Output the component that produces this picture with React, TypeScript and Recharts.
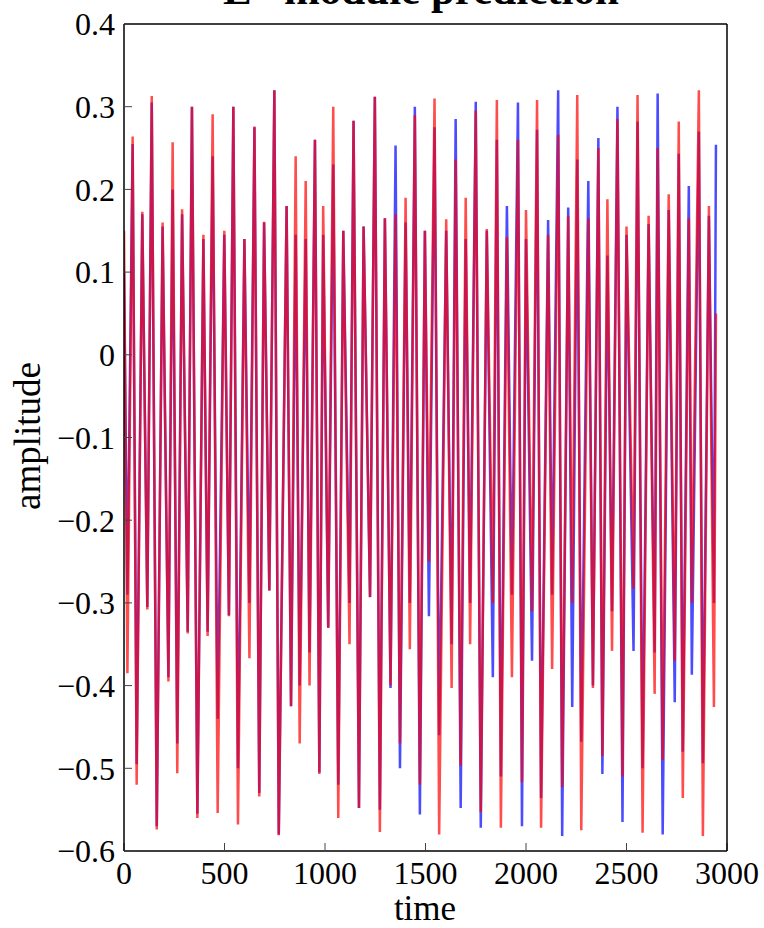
import React from 'react';
import { LineChart, Line, XAxis, YAxis } from 'recharts';

const title = 'E* module prediction';
const xLabel = 'time';
const yLabel = 'amplitude';

const times = [
  0, 17, 43, 63, 91, 116, 138, 163, 192, 221, 242, 265, 289, 317, 338, 365, 395, 416, 441, 466,
  499, 522, 544, 567, 599, 624, 649, 673, 697, 723, 748, 770, 809, 831, 854, 874, 904, 923, 950, 972,
  991, 1016, 1041, 1066, 1091, 1122, 1142, 1169, 1192, 1224, 1248, 1273, 1298, 1326, 1351, 1373, 1401, 1422, 1447, 1472,
  1497, 1517, 1545, 1568, 1603, 1630, 1650, 1675, 1700, 1722, 1750, 1775, 1805, 1835, 1855, 1875, 1905, 1930, 1960, 1980,
  2000, 2030, 2055, 2075, 2110, 2130, 2160, 2180, 2210, 2230, 2255, 2275, 2310, 2333, 2360, 2380, 2405, 2428, 2455, 2480,
  2500, 2535, 2555, 2580, 2610, 2640, 2655, 2680, 2710, 2740, 2760, 2780, 2810, 2825, 2860, 2880, 2910, 2935, 2945,
];

const actual = [
  0.10, -0.29, 0.255, -0.495, 0.17, -0.305, 0.305, -0.57, 0.155, -0.39, 0.20, -0.47, 0.17, -0.335, 0.30, -0.555, 0.14, -0.335, 0.24, -0.44,
  0.145, -0.315, 0.30, -0.50, 0.14, -0.30, 0.275, -0.53, 0.16, -0.285, 0.32, -0.58, 0.18, -0.425, 0.145, -0.40, 0.14, -0.36, 0.26, -0.505,
  0.145, -0.33, 0.23, -0.52, 0.15, -0.30, 0.283, -0.548, 0.155, -0.293, 0.312, -0.55, 0.165, -0.403, 0.253, -0.50, 0.16, -0.30, 0.30, -0.556,
  0.15, -0.316, 0.275, -0.46, 0.15, -0.35, 0.285, -0.548, 0.14, -0.30, 0.306, -0.572, 0.15, -0.39, 0.26, -0.51, 0.18, -0.29, 0.305, -0.57,
  0.14, -0.37, 0.272, -0.536, 0.163, -0.29, 0.32, -0.582, 0.178, -0.426, 0.236, -0.468, 0.21, -0.40, 0.262, -0.507, 0.12, -0.31, 0.30, -0.565,
  0.145, -0.358, 0.282, -0.50, 0.158, -0.36, 0.316, -0.58, 0.175, -0.42, 0.243, -0.48, 0.204, -0.387, 0.27, -0.494, 0.168, -0.30, 0.254,
];

const predicted = [
  0.15, -0.385, 0.264, -0.52, 0.173, -0.308, 0.313, -0.574, 0.16, -0.395, 0.257, -0.506, 0.176, -0.337, 0.30, -0.56, 0.145, -0.34, 0.291, -0.554,
  0.15, -0.316, 0.30, -0.568, 0.14, -0.367, 0.276, -0.534, 0.161, -0.285, 0.32, -0.581, 0.18, -0.425, 0.24, -0.47, 0.21, -0.40, 0.26, -0.507,
  0.18, -0.33, 0.30, -0.56, 0.15, -0.35, 0.283, -0.548, 0.155, -0.293, 0.312, -0.577, 0.165, -0.40, 0.17, -0.47, 0.19, -0.356, 0.29, -0.52,
  0.15, -0.25, 0.31, -0.58, 0.164, -0.403, 0.236, -0.497, 0.19, -0.35, 0.295, -0.553, 0.152, -0.30, 0.308, -0.572, 0.142, -0.39, 0.26, -0.517,
  0.175, -0.31, 0.308, -0.572, 0.145, -0.38, 0.266, -0.523, 0.168, -0.30, 0.314, -0.575, 0.165, -0.403, 0.25, -0.485, 0.188, -0.358, 0.285, -0.51,
  0.155, -0.283, 0.314, -0.578, 0.168, -0.41, 0.25, -0.49, 0.194, -0.37, 0.282, -0.536, 0.165, -0.30, 0.32, -0.582, 0.18, -0.426, 0.05,
];

const xTicks = [0, 500, 1000, 1500, 2000, 2500, 3000];
const yTicks = [-0.6, -0.5, -0.4, -0.3, -0.2, -0.1, 0, 0.1, 0.2, 0.3, 0.4];

const data = times.map((t, i) => ({ t, actual: actual[i], predicted: predicted[i] }));

const fmtY = (v: number) => (v === 0 ? '0' : (v < 0 ? '\u2212' : '') + Math.abs(v).toFixed(1));

const FONT = '"Liberation Serif", "Times New Roman", serif';
const tickStyle = { fill: '#000', fontSize: 32, fontFamily: FONT };
const axisLineStyle = { stroke: '#000', strokeWidth: 1.5 };
const tickLineStyle = { stroke: '#444', strokeWidth: 1 };

export default function App() {
  return (
    <div style={{ position: 'absolute', left: 0, top: 0, width: 764, height: 928, background: '#fff' }}>
      <LineChart
        width={764}
        height={928}
        data={data}
        margin={{ top: 23, right: 36, bottom: 17, left: 0 }}
      >
        <XAxis
          xAxisId="b"
          dataKey="t"
          type="number"
          domain={[0, 3000]}
          ticks={xTicks}
          orientation="bottom"
          height={60}
          tickSize={-8}
          tickMargin={18}
          axisLine={axisLineStyle}
          tickLine={tickLineStyle}
          tick={tickStyle}
          allowDataOverflow
        />
        <XAxis
          xAxisId="top"
          dataKey="t"
          type="number"
          domain={[0, 3000]}
          ticks={xTicks}
          orientation="top"
          height={1}
          tickSize={-8}
          axisLine={axisLineStyle}
          tickLine={tickLineStyle}
          tick={false}
          allowDataOverflow
        />
        <YAxis
          yAxisId="l"
          type="number"
          domain={[-0.6, 0.4]}
          ticks={yTicks}
          width={124}
          tickSize={-8}
          tickMargin={17}
          tickFormatter={fmtY}
          axisLine={axisLineStyle}
          tickLine={tickLineStyle}
          tick={tickStyle}
          allowDataOverflow
        />
        <YAxis
          yAxisId="r"
          orientation="right"
          type="number"
          domain={[-0.6, 0.4]}
          ticks={yTicks}
          width={1}
          tickSize={-8}
          axisLine={axisLineStyle}
          tickLine={tickLineStyle}
          tick={false}
          allowDataOverflow
        />
        <Line
          xAxisId="b"
          yAxisId="l"
          dataKey="actual"
          type="linear"
          stroke="#0000ff"
          strokeOpacity={0.7}
          strokeWidth={2.5}
          dot={false}
          isAnimationActive={false}
        />
        <Line
          xAxisId="b"
          yAxisId="l"
          dataKey="predicted"
          type="linear"
          stroke="#ff0000"
          strokeOpacity={0.7}
          strokeWidth={2.5}
          dot={false}
          isAnimationActive={false}
        />
      </LineChart>
      <svg
        width={764}
        height={928}
        style={{ position: 'absolute', left: 0, top: 0, pointerEvents: 'none' }}
      >
        <text x={421} y={4} textAnchor="middle" fontFamily={FONT} fontSize={43} fontWeight="bold" fill="#000">
          {title}
        </text>
        <text x={425} y={920} textAnchor="middle" fontFamily={FONT} fontSize={35} fill="#000">
          {xLabel}
        </text>
        <text
          x={40}
          y={436}
          textAnchor="middle"
          fontFamily={FONT}
          fontSize={37}
          fill="#000"
          transform="rotate(-90, 40, 436)"
        >
          {yLabel}
        </text>
      </svg>
    </div>
  );
}
